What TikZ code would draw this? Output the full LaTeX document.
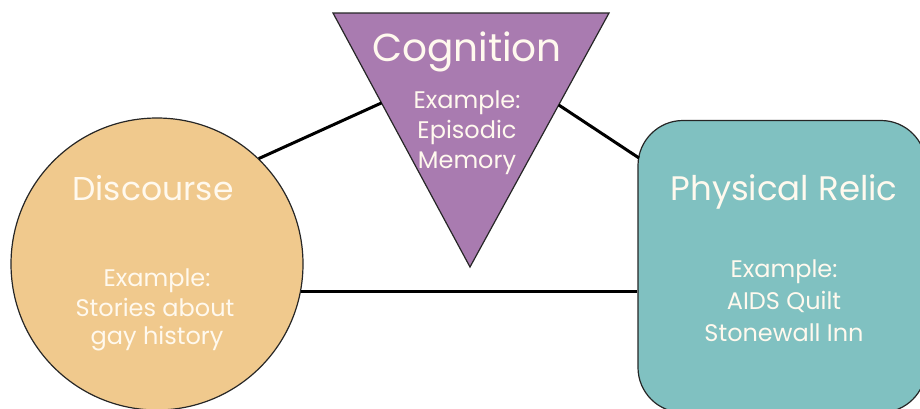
\documentclass[tikz,border=0pt]{standalone}
\usepackage{fontspec}
\setmainfont{Poppins}
\usetikzlibrary{calc}
\definecolor{tan}{HTML}{F0C98D}
\definecolor{purp}{HTML}{A97BB0}
\definecolor{teal2}{HTML}{80C1C1}
\definecolor{txt}{HTML}{FFF9EE}
\tikzset{
  shapeline/.style={draw=black!85, line width=1.2pt},
  conn/.style={draw=black, line width=3pt},
  title/.style={text=txt, anchor=base, font=\fontsize{33}{40}\selectfont},
  example/.style={text=txt, anchor=base, font=\fontsize{24}{30}\selectfont},
}
\begin{document}
\begin{tikzpicture}[x=1pt,y=-1pt]
\useasboundingbox (0,0) rectangle (920,408);
% shapes
\node[shapeline, fill=tan, circle, minimum size=292pt, inner sep=0pt] (disc) at (157,264) {};
\node[shapeline, fill=teal2, rectangle, rounded corners=45pt, minimum width=288pt, minimum height=292pt, inner sep=0pt] (box) at (782,266.5) {};
\path[shapeline, fill=purp] (333,13) coordinate (tl) -- (609,13) coordinate (tr) -- (470,267) coordinate (tb) -- cycle;
\coordinate (tleft) at ($(tl)!0.354!(tb)$);
\coordinate (tright) at ($(tr)!0.362!(tb)$);
\coordinate (pr) at (639,158);
% connectors
\draw[conn] (disc.46.5) -- (tleft);
\draw[conn] (tright) -- (pr);
\draw[conn] (disc.-11.5) -- (disc.-11.5 -| box.west);
% texts
\node[title] (dt) at (153,200) {Discourse};
\node[example] (d1) at (157,286) {Example:};
\node[example] (d2) at (155,316) {Stories about};
\node[example] (d3) at (157,344) {gay history};
\node[title, font=\fontsize{39}{44}\selectfont] (ct) at (467,61) {Cognition};
\node[example] (c1) at (467,108) {Example:};
\node[example] (c2) at (467,138) {Episodic};
\node[example] (c3) at (467,168) {Memory};
\node[title, font=\fontsize{34}{40}\selectfont] (pt) at (784,200) {Physical Relic};
\node[example] (p1) at (784,277) {Example:};
\node[example] (p2) at (784,309) {AIDS Quilt};
\node[example] (p3) at (784,341) {Stonewall Inn};
\end{tikzpicture}
\end{document}
